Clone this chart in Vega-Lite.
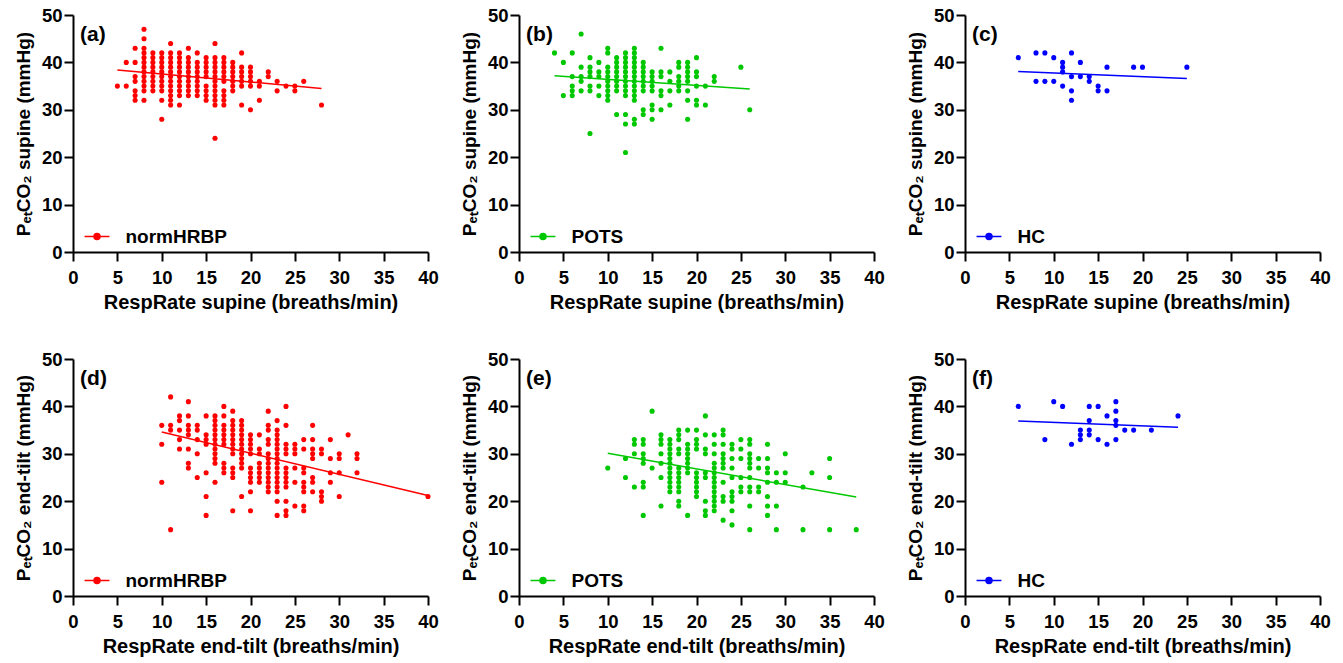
{
"$schema":"https://vega.github.io/schema/vega-lite/v6.json",
"background":"white",
"padding":{"left":14,"top":6,"right":5,"bottom":5},
"config":{
 "font":"Liberation Sans",
 "view":{"stroke":null},
 "axis":{"grid":false,"domainColor":"black","domainWidth":2,"tickColor":"black","tickWidth":2,"tickSize":9,"labelFont":"Liberation Sans","labelFontSize":18.5,"labelFontWeight":"bold","labelColor":"black","titleFont":"Liberation Sans","titleFontSize":20,"titleFontWeight":"bold","titleColor":"black","labelFlush":false,"labelOverlap":false,"labelBound":false},
 "axisX":{"labelPadding":7,"titlePadding":6},
 "axisY":{"labelPadding":2,"titlePadding":8,"titleFontSize":19},
 "legend":{"orient":"none","legendX":10.5,"legendY":208,"title":null,"padding":0,"symbolType":"M-1,0H1M-0.24,0A0.24,0.24,0,1,1,0.24,0A0.24,0.24,0,1,1,-0.24,0Z","symbolSize":620,"symbolStrokeWidth":1.5,"labelFont":"Liberation Sans","labelFontSize":19,"labelFontWeight":"bold","labelColor":"black","labelOffset":15},
 "text":{"font":"Liberation Sans","fontSize":21,"fontWeight":"bold","align":"left","baseline":"middle","color":"black"}
},
"datasets":{
"a":[{"x":5,"y":35},{"x":6,"y":40},{"x":6,"y":35},{"x":7,"y":43},{"x":7,"y":40},{"x":7,"y":37},{"x":7,"y":36},{"x":7,"y":34},{"x":7,"y":33},{"x":7,"y":32},{"x":8,"y":47},{"x":8,"y":45},{"x":8,"y":43},{"x":8,"y":42},{"x":8,"y":41},{"x":8,"y":40},{"x":8,"y":39},{"x":8,"y":38},{"x":8,"y":37},{"x":8,"y":36},{"x":8,"y":35},{"x":8,"y":34},{"x":8,"y":32},{"x":9,"y":42},{"x":9,"y":41},{"x":9,"y":40},{"x":9,"y":39},{"x":9,"y":38},{"x":9,"y":37},{"x":9,"y":36},{"x":9,"y":35},{"x":9,"y":34},{"x":10,"y":42},{"x":10,"y":41},{"x":10,"y":40},{"x":10,"y":39},{"x":10,"y":38},{"x":10,"y":37},{"x":10,"y":36},{"x":10,"y":35},{"x":10,"y":34},{"x":10,"y":32},{"x":10,"y":28},{"x":11,"y":44},{"x":11,"y":42},{"x":11,"y":41},{"x":11,"y":40},{"x":11,"y":39},{"x":11,"y":38},{"x":11,"y":37},{"x":11,"y":36},{"x":11,"y":35},{"x":11,"y":34},{"x":11,"y":33},{"x":11,"y":32},{"x":11,"y":31},{"x":12,"y":42},{"x":12,"y":41},{"x":12,"y":40},{"x":12,"y":39},{"x":12,"y":38},{"x":12,"y":37},{"x":12,"y":36},{"x":12,"y":35},{"x":12,"y":34},{"x":12,"y":33},{"x":12,"y":31},{"x":13,"y":43},{"x":13,"y":41},{"x":13,"y":40},{"x":13,"y":39},{"x":13,"y":38},{"x":13,"y":37},{"x":13,"y":36},{"x":13,"y":35},{"x":13,"y":34},{"x":13,"y":33},{"x":14,"y":42},{"x":14,"y":40},{"x":14,"y":39},{"x":14,"y":38},{"x":14,"y":37},{"x":14,"y":36},{"x":14,"y":35},{"x":14,"y":34},{"x":14,"y":33},{"x":15,"y":41},{"x":15,"y":40},{"x":15,"y":39},{"x":15,"y":38},{"x":15,"y":37},{"x":15,"y":35},{"x":15,"y":34},{"x":15,"y":33},{"x":15,"y":32},{"x":16,"y":44},{"x":16,"y":41},{"x":16,"y":40},{"x":16,"y":39},{"x":16,"y":38},{"x":16,"y":37},{"x":16,"y":36},{"x":16,"y":35},{"x":16,"y":34},{"x":16,"y":33},{"x":16,"y":32},{"x":16,"y":31},{"x":16,"y":24},{"x":17,"y":41},{"x":17,"y":40},{"x":17,"y":39},{"x":17,"y":38},{"x":17,"y":37},{"x":17,"y":36},{"x":17,"y":34},{"x":17,"y":33},{"x":17,"y":32},{"x":17,"y":31},{"x":18,"y":40},{"x":18,"y":39},{"x":18,"y":38},{"x":18,"y":37},{"x":18,"y":36},{"x":18,"y":35},{"x":18,"y":34},{"x":19,"y":42},{"x":19,"y":39},{"x":19,"y":38},{"x":19,"y":37},{"x":19,"y":36},{"x":19,"y":35},{"x":19,"y":31},{"x":20,"y":39},{"x":20,"y":38},{"x":20,"y":37},{"x":20,"y":36},{"x":20,"y":35},{"x":20,"y":30},{"x":21,"y":36},{"x":21,"y":35},{"x":21,"y":32},{"x":22,"y":38},{"x":22,"y":37},{"x":23,"y":36},{"x":23,"y":34},{"x":24,"y":35},{"x":25,"y":35},{"x":25,"y":34},{"x":26,"y":36},{"x":28,"y":31}],
"b":[{"x":4,"y":42},{"x":5,"y":40},{"x":5,"y":33},{"x":6,"y":42},{"x":6,"y":37},{"x":6,"y":35},{"x":6,"y":34},{"x":6,"y":33},{"x":7,"y":46},{"x":7,"y":39},{"x":7,"y":37},{"x":7,"y":36},{"x":7,"y":34},{"x":8,"y":41},{"x":8,"y":39},{"x":8,"y":38},{"x":8,"y":37},{"x":8,"y":35},{"x":8,"y":34},{"x":8,"y":25},{"x":9,"y":40},{"x":9,"y":38},{"x":9,"y":37},{"x":9,"y":35},{"x":9,"y":33},{"x":10,"y":43},{"x":10,"y":42},{"x":10,"y":39},{"x":10,"y":38},{"x":10,"y":37},{"x":10,"y":36},{"x":10,"y":35},{"x":10,"y":34},{"x":10,"y":33},{"x":10,"y":32},{"x":11,"y":41},{"x":11,"y":40},{"x":11,"y":39},{"x":11,"y":38},{"x":11,"y":37},{"x":11,"y":36},{"x":11,"y":35},{"x":11,"y":34},{"x":11,"y":29},{"x":12,"y":42},{"x":12,"y":41},{"x":12,"y":40},{"x":12,"y":39},{"x":12,"y":38},{"x":12,"y":37},{"x":12,"y":36},{"x":12,"y":35},{"x":12,"y":34},{"x":12,"y":33},{"x":12,"y":29},{"x":12,"y":27},{"x":12,"y":21},{"x":13,"y":43},{"x":13,"y":42},{"x":13,"y":41},{"x":13,"y":40},{"x":13,"y":39},{"x":13,"y":38},{"x":13,"y":37},{"x":13,"y":36},{"x":13,"y":35},{"x":13,"y":34},{"x":13,"y":33},{"x":13,"y":32},{"x":13,"y":28},{"x":13,"y":27},{"x":14,"y":40},{"x":14,"y":39},{"x":14,"y":38},{"x":14,"y":37},{"x":14,"y":36},{"x":14,"y":35},{"x":14,"y":34},{"x":14,"y":30},{"x":14,"y":29},{"x":15,"y":38},{"x":15,"y":37},{"x":15,"y":36},{"x":15,"y":35},{"x":15,"y":34},{"x":15,"y":31},{"x":15,"y":30},{"x":15,"y":28},{"x":16,"y":43},{"x":16,"y":38},{"x":16,"y":37},{"x":16,"y":34},{"x":16,"y":33},{"x":16,"y":30},{"x":17,"y":38},{"x":17,"y":36},{"x":17,"y":34},{"x":17,"y":31},{"x":18,"y":40},{"x":18,"y":39},{"x":18,"y":37},{"x":18,"y":36},{"x":18,"y":35},{"x":18,"y":34},{"x":19,"y":40},{"x":19,"y":39},{"x":19,"y":38},{"x":19,"y":37},{"x":19,"y":36},{"x":19,"y":34},{"x":19,"y":32},{"x":19,"y":28},{"x":20,"y":41},{"x":20,"y":38},{"x":20,"y":37},{"x":20,"y":35},{"x":20,"y":32},{"x":20,"y":31},{"x":21,"y":35},{"x":21,"y":31},{"x":22,"y":37},{"x":22,"y":36},{"x":25,"y":39},{"x":26,"y":30}],
"c":[{"x":6,"y":41},{"x":8,"y":42},{"x":8,"y":36},{"x":9,"y":42},{"x":9,"y":36},{"x":10,"y":41},{"x":10,"y":36},{"x":11,"y":40},{"x":11,"y":39},{"x":11,"y":38},{"x":11,"y":35},{"x":12,"y":42},{"x":12,"y":37},{"x":12,"y":34},{"x":12,"y":32},{"x":13,"y":40},{"x":13,"y":37},{"x":14,"y":37},{"x":14,"y":36},{"x":15,"y":35},{"x":15,"y":34},{"x":16,"y":39},{"x":16,"y":34},{"x":19,"y":39},{"x":20,"y":39},{"x":25,"y":39}],
"d":[{"x":10,"y":36},{"x":10,"y":32},{"x":10,"y":24},{"x":11,"y":42},{"x":11,"y":36},{"x":11,"y":35},{"x":11,"y":14},{"x":12,"y":38},{"x":12,"y":37},{"x":12,"y":35},{"x":12,"y":33},{"x":12,"y":31},{"x":13,"y":41},{"x":13,"y":38},{"x":13,"y":36},{"x":13,"y":35},{"x":13,"y":34},{"x":13,"y":31},{"x":13,"y":28},{"x":13,"y":27},{"x":14,"y":36},{"x":14,"y":35},{"x":14,"y":33},{"x":14,"y":30},{"x":14,"y":25},{"x":15,"y":38},{"x":15,"y":34},{"x":15,"y":33},{"x":15,"y":32},{"x":15,"y":26},{"x":15,"y":21},{"x":15,"y":17},{"x":16,"y":38},{"x":16,"y":37},{"x":16,"y":36},{"x":16,"y":35},{"x":16,"y":34},{"x":16,"y":33},{"x":16,"y":32},{"x":16,"y":31},{"x":16,"y":30},{"x":16,"y":29},{"x":16,"y":28},{"x":16,"y":24},{"x":17,"y":40},{"x":17,"y":38},{"x":17,"y":36},{"x":17,"y":35},{"x":17,"y":34},{"x":17,"y":33},{"x":17,"y":32},{"x":17,"y":28},{"x":17,"y":27},{"x":17,"y":26},{"x":18,"y":39},{"x":18,"y":37},{"x":18,"y":36},{"x":18,"y":35},{"x":18,"y":34},{"x":18,"y":33},{"x":18,"y":32},{"x":18,"y":31},{"x":18,"y":30},{"x":18,"y":27},{"x":18,"y":26},{"x":18,"y":25},{"x":18,"y":18},{"x":19,"y":37},{"x":19,"y":36},{"x":19,"y":35},{"x":19,"y":34},{"x":19,"y":33},{"x":19,"y":32},{"x":19,"y":31},{"x":19,"y":30},{"x":19,"y":29},{"x":19,"y":28},{"x":19,"y":27},{"x":19,"y":21},{"x":20,"y":34},{"x":20,"y":33},{"x":20,"y":32},{"x":20,"y":31},{"x":20,"y":30},{"x":20,"y":27},{"x":20,"y":26},{"x":20,"y":25},{"x":20,"y":24},{"x":20,"y":22},{"x":20,"y":18},{"x":21,"y":34},{"x":21,"y":31},{"x":21,"y":30},{"x":21,"y":28},{"x":21,"y":27},{"x":21,"y":26},{"x":21,"y":25},{"x":21,"y":24},{"x":22,"y":39},{"x":22,"y":36},{"x":22,"y":35},{"x":22,"y":33},{"x":22,"y":32},{"x":22,"y":30},{"x":22,"y":29},{"x":22,"y":28},{"x":22,"y":27},{"x":22,"y":26},{"x":22,"y":25},{"x":22,"y":24},{"x":22,"y":23},{"x":22,"y":22},{"x":23,"y":37},{"x":23,"y":35},{"x":23,"y":34},{"x":23,"y":33},{"x":23,"y":32},{"x":23,"y":31},{"x":23,"y":30},{"x":23,"y":29},{"x":23,"y":28},{"x":23,"y":27},{"x":23,"y":26},{"x":23,"y":25},{"x":23,"y":24},{"x":23,"y":23},{"x":23,"y":22},{"x":23,"y":20},{"x":23,"y":17},{"x":24,"y":40},{"x":24,"y":36},{"x":24,"y":32},{"x":24,"y":31},{"x":24,"y":30},{"x":24,"y":27},{"x":24,"y":26},{"x":24,"y":25},{"x":24,"y":24},{"x":24,"y":23},{"x":24,"y":20},{"x":24,"y":18},{"x":24,"y":17},{"x":25,"y":32},{"x":25,"y":31},{"x":25,"y":30},{"x":25,"y":27},{"x":25,"y":24},{"x":25,"y":19},{"x":26,"y":33},{"x":26,"y":31},{"x":26,"y":27},{"x":26,"y":26},{"x":26,"y":24},{"x":26,"y":23},{"x":26,"y":22},{"x":26,"y":19},{"x":26,"y":18},{"x":27,"y":36},{"x":27,"y":33},{"x":27,"y":31},{"x":27,"y":30},{"x":27,"y":29},{"x":27,"y":25},{"x":27,"y":24},{"x":27,"y":22},{"x":28,"y":31},{"x":28,"y":30},{"x":28,"y":22},{"x":28,"y":21},{"x":28,"y":20},{"x":29,"y":33},{"x":29,"y":29},{"x":29,"y":26},{"x":29,"y":24},{"x":30,"y":30},{"x":30,"y":29},{"x":30,"y":26},{"x":30,"y":21},{"x":31,"y":34},{"x":32,"y":30},{"x":32,"y":29},{"x":32,"y":26},{"x":40,"y":21}],
"e":[{"x":10,"y":27},{"x":12,"y":29},{"x":12,"y":25},{"x":13,"y":33},{"x":13,"y":32},{"x":13,"y":30},{"x":13,"y":23},{"x":14,"y":33},{"x":14,"y":32},{"x":14,"y":30},{"x":14,"y":29},{"x":14,"y":28},{"x":14,"y":24},{"x":14,"y":23},{"x":14,"y":17},{"x":15,"y":39},{"x":15,"y":27},{"x":16,"y":34},{"x":16,"y":33},{"x":16,"y":32},{"x":16,"y":30},{"x":16,"y":28},{"x":16,"y":25},{"x":16,"y":19},{"x":17,"y":33},{"x":17,"y":32},{"x":17,"y":31},{"x":17,"y":30},{"x":17,"y":29},{"x":17,"y":28},{"x":17,"y":27},{"x":17,"y":26},{"x":17,"y":25},{"x":17,"y":24},{"x":17,"y":23},{"x":17,"y":22},{"x":18,"y":35},{"x":18,"y":34},{"x":18,"y":33},{"x":18,"y":31},{"x":18,"y":30},{"x":18,"y":27},{"x":18,"y":26},{"x":18,"y":25},{"x":18,"y":24},{"x":18,"y":23},{"x":18,"y":22},{"x":18,"y":20},{"x":18,"y":19},{"x":19,"y":35},{"x":19,"y":32},{"x":19,"y":31},{"x":19,"y":30},{"x":19,"y":29},{"x":19,"y":28},{"x":19,"y":27},{"x":19,"y":26},{"x":19,"y":17},{"x":20,"y":35},{"x":20,"y":33},{"x":20,"y":32},{"x":20,"y":31},{"x":20,"y":26},{"x":20,"y":25},{"x":20,"y":24},{"x":20,"y":23},{"x":20,"y":22},{"x":20,"y":21},{"x":21,"y":38},{"x":21,"y":34},{"x":21,"y":31},{"x":21,"y":30},{"x":21,"y":26},{"x":21,"y":25},{"x":21,"y":20},{"x":21,"y":18},{"x":21,"y":17},{"x":22,"y":34},{"x":22,"y":32},{"x":22,"y":30},{"x":22,"y":28},{"x":22,"y":27},{"x":22,"y":26},{"x":22,"y":25},{"x":22,"y":24},{"x":22,"y":23},{"x":22,"y":22},{"x":22,"y":21},{"x":22,"y":20},{"x":22,"y":19},{"x":22,"y":18},{"x":23,"y":35},{"x":23,"y":34},{"x":23,"y":32},{"x":23,"y":30},{"x":23,"y":29},{"x":23,"y":28},{"x":23,"y":27},{"x":23,"y":24},{"x":23,"y":21},{"x":23,"y":20},{"x":23,"y":16},{"x":24,"y":32},{"x":24,"y":31},{"x":24,"y":29},{"x":24,"y":27},{"x":24,"y":25},{"x":24,"y":22},{"x":24,"y":21},{"x":24,"y":20},{"x":24,"y":18},{"x":24,"y":15},{"x":25,"y":33},{"x":25,"y":31},{"x":25,"y":29},{"x":25,"y":25},{"x":25,"y":23},{"x":25,"y":22},{"x":26,"y":33},{"x":26,"y":32},{"x":26,"y":30},{"x":26,"y":29},{"x":26,"y":28},{"x":26,"y":27},{"x":26,"y":25},{"x":26,"y":23},{"x":26,"y":22},{"x":26,"y":19},{"x":26,"y":14},{"x":27,"y":29},{"x":27,"y":27},{"x":27,"y":23},{"x":27,"y":22},{"x":28,"y":32},{"x":28,"y":29},{"x":28,"y":27},{"x":28,"y":26},{"x":28,"y":24},{"x":28,"y":21},{"x":28,"y":19},{"x":28,"y":17},{"x":29,"y":26},{"x":29,"y":24},{"x":29,"y":19},{"x":29,"y":14},{"x":30,"y":30},{"x":30,"y":26},{"x":30,"y":24},{"x":32,"y":23},{"x":32,"y":14},{"x":33,"y":26},{"x":35,"y":29},{"x":35,"y":25},{"x":35,"y":14},{"x":38,"y":14}],
"f":[{"x":6,"y":40},{"x":9,"y":33},{"x":10,"y":41},{"x":11,"y":40},{"x":12,"y":32},{"x":13,"y":35},{"x":13,"y":34},{"x":13,"y":33},{"x":14,"y":40},{"x":14,"y":37},{"x":14,"y":35},{"x":14,"y":34},{"x":15,"y":40},{"x":15,"y":33},{"x":16,"y":38},{"x":16,"y":32},{"x":17,"y":41},{"x":17,"y":39},{"x":17,"y":37},{"x":17,"y":36},{"x":17,"y":33},{"x":18,"y":35},{"x":19,"y":35},{"x":21,"y":35},{"x":24,"y":38}]
},
"resolve":{"scale":{"color":"independent"},"legend":{"color":"independent"}},
"columns":3,
"spacing":{"row":107,"column":91},
"bounds":"flush",
"concat":[
{"width":355,"height":237,"layer":[
 {"data":{"name":"a"},"mark":{"type":"point","filled":true,"size":26,"opacity":1},"encoding":{
  "x":{"field":"x","type":"quantitative","scale":{"domain":[0,40],"nice":false},"axis":{"values":[0,5,10,15,20,25,30,35,40],"title":"RespRate supine (breaths/min)"}},
  "y":{"field":"y","type":"quantitative","scale":{"domain":[0,50],"nice":false},"axis":{"values":[0,10,20,30,40,50],"title":"PₑₜCO₂ supine  (mmHg)"}},
  "color":{"datum":"normHRBP","type":"nominal","scale":{"range":["#FF0000"]},"legend":{"symbolFillColor":"#FF0000","symbolStrokeColor":"#FF0000"}}}},
 {"data":{"values":[{"x":5,"y":38.4},{"x":28,"y":34.5}]},"mark":{"type":"line","color":"#FF0000","strokeWidth":1.5},"encoding":{"x":{"field":"x","type":"quantitative"},"y":{"field":"y","type":"quantitative"}}},
 {"data":{"values":[{"label":"(a)"}]},"mark":{"type":"text"},"encoding":{"x":{"datum":0.8},"y":{"datum":45.8},"text":{"field":"label"}}}
]},
{"width":355,"height":237,"layer":[
 {"data":{"name":"b"},"mark":{"type":"point","filled":true,"size":26,"opacity":1},"encoding":{
  "x":{"field":"x","type":"quantitative","scale":{"domain":[0,40],"nice":false},"axis":{"values":[0,5,10,15,20,25,30,35,40],"title":"RespRate supine (breaths/min)"}},
  "y":{"field":"y","type":"quantitative","scale":{"domain":[0,50],"nice":false},"axis":{"values":[0,10,20,30,40,50],"title":"PₑₜCO₂ supine (mmHg)"}},
  "color":{"datum":"POTS","type":"nominal","scale":{"range":["#00C800"]},"legend":{"symbolFillColor":"#00C800","symbolStrokeColor":"#00C800"}}}},
 {"data":{"values":[{"x":4,"y":37.2},{"x":26,"y":34.4}]},"mark":{"type":"line","color":"#00C800","strokeWidth":1.5},"encoding":{"x":{"field":"x","type":"quantitative"},"y":{"field":"y","type":"quantitative"}}},
 {"data":{"values":[{"label":"(b)"}]},"mark":{"type":"text"},"encoding":{"x":{"datum":0.8},"y":{"datum":45.8},"text":{"field":"label"}}}
]},
{"width":355,"height":237,"layer":[
 {"data":{"name":"c"},"mark":{"type":"point","filled":true,"size":26,"opacity":1},"encoding":{
  "x":{"field":"x","type":"quantitative","scale":{"domain":[0,40],"nice":false},"axis":{"values":[0,5,10,15,20,25,30,35,40],"title":"RespRate supine (breaths/min)"}},
  "y":{"field":"y","type":"quantitative","scale":{"domain":[0,50],"nice":false},"axis":{"values":[0,10,20,30,40,50],"title":"PₑₜCO₂ supine  (mmHg)"}},
  "color":{"datum":"HC","type":"nominal","scale":{"range":["#0000FF"]},"legend":{"symbolFillColor":"#0000FF","symbolStrokeColor":"#0000FF"}}}},
 {"data":{"values":[{"x":6,"y":38.1},{"x":25,"y":36.6}]},"mark":{"type":"line","color":"#0000FF","strokeWidth":1.5},"encoding":{"x":{"field":"x","type":"quantitative"},"y":{"field":"y","type":"quantitative"}}},
 {"data":{"values":[{"label":"(c)"}]},"mark":{"type":"text"},"encoding":{"x":{"datum":0.8},"y":{"datum":45.8},"text":{"field":"label"}}}
]},
{"width":355,"height":237,"layer":[
 {"data":{"name":"d"},"mark":{"type":"point","filled":true,"size":26,"opacity":1},"encoding":{
  "x":{"field":"x","type":"quantitative","scale":{"domain":[0,40],"nice":false},"axis":{"values":[0,5,10,15,20,25,30,35,40],"title":"RespRate end-tilt (breaths/min)"}},
  "y":{"field":"y","type":"quantitative","scale":{"domain":[0,50],"nice":false},"axis":{"values":[0,10,20,30,40,50],"title":"PₑₜCO₂ end-tilt  (mmHg)"}},
  "color":{"datum":"normHRBP","type":"nominal","scale":{"range":["#FF0000"]},"legend":{"symbolFillColor":"#FF0000","symbolStrokeColor":"#FF0000"}}}},
 {"data":{"values":[{"x":10,"y":34.6},{"x":40,"y":21.2}]},"mark":{"type":"line","color":"#FF0000","strokeWidth":1.5},"encoding":{"x":{"field":"x","type":"quantitative"},"y":{"field":"y","type":"quantitative"}}},
 {"data":{"values":[{"label":"(d)"}]},"mark":{"type":"text"},"encoding":{"x":{"datum":0.8},"y":{"datum":45.8},"text":{"field":"label"}}}
]},
{"width":355,"height":237,"layer":[
 {"data":{"name":"e"},"mark":{"type":"point","filled":true,"size":26,"opacity":1},"encoding":{
  "x":{"field":"x","type":"quantitative","scale":{"domain":[0,40],"nice":false},"axis":{"values":[0,5,10,15,20,25,30,35,40],"title":"RespRate end-tilt (breaths/min)"}},
  "y":{"field":"y","type":"quantitative","scale":{"domain":[0,50],"nice":false},"axis":{"values":[0,10,20,30,40,50],"title":"PₑₜCO₂ end-tilt (mmHg)"}},
  "color":{"datum":"POTS","type":"nominal","scale":{"range":["#00C800"]},"legend":{"symbolFillColor":"#00C800","symbolStrokeColor":"#00C800"}}}},
 {"data":{"values":[{"x":10,"y":30.1},{"x":38,"y":20.9}]},"mark":{"type":"line","color":"#00C800","strokeWidth":1.5},"encoding":{"x":{"field":"x","type":"quantitative"},"y":{"field":"y","type":"quantitative"}}},
 {"data":{"values":[{"label":"(e)"}]},"mark":{"type":"text"},"encoding":{"x":{"datum":0.8},"y":{"datum":45.8},"text":{"field":"label"}}}
]},
{"width":355,"height":237,"layer":[
 {"data":{"name":"f"},"mark":{"type":"point","filled":true,"size":26,"opacity":1},"encoding":{
  "x":{"field":"x","type":"quantitative","scale":{"domain":[0,40],"nice":false},"axis":{"values":[0,5,10,15,20,25,30,35,40],"title":"RespRate end-tilt (breaths/min)"}},
  "y":{"field":"y","type":"quantitative","scale":{"domain":[0,50],"nice":false},"axis":{"values":[0,10,20,30,40,50],"title":"PₑₜCO₂ end-tilt (mmHg)"}},
  "color":{"datum":"HC","type":"nominal","scale":{"range":["#0000FF"]},"legend":{"symbolFillColor":"#0000FF","symbolStrokeColor":"#0000FF"}}}},
 {"data":{"values":[{"x":6,"y":36.9},{"x":24,"y":35.6}]},"mark":{"type":"line","color":"#0000FF","strokeWidth":1.5},"encoding":{"x":{"field":"x","type":"quantitative"},"y":{"field":"y","type":"quantitative"}}},
 {"data":{"values":[{"label":"(f)"}]},"mark":{"type":"text"},"encoding":{"x":{"datum":0.8},"y":{"datum":45.8},"text":{"field":"label"}}}
]}
]
}
